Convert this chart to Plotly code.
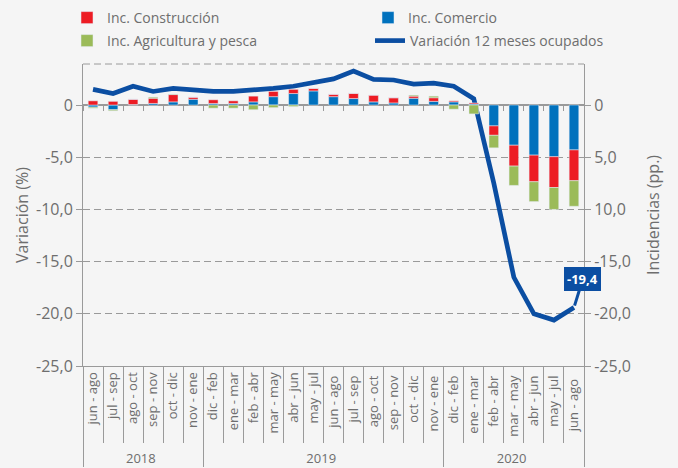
import plotly.graph_objects as go

# ---------------- data ----------------
years = ["2018"] * 6 + ["2019"] * 12 + ["2020"] * 7
periodos = [
    "jun - ago", "jul - sep", "ago - oct", "sep - nov", "oct - dic", "nov - ene",
    "dic - feb", "ene - mar", "feb - abr", "mar - may", "abr - jun", "may - jul",
    "jun - ago", "jul - sep", "ago - oct", "sep - nov", "oct - dic", "nov - ene",
    "dic - feb", "ene - mar", "feb - abr", "mar - may", "abr - jun", "may - jul",
    "jun - ago",
]
variacion = [1.5, 1.1, 1.8, 1.3, 1.6, 1.4, 1.3, 1.3, 1.4, 1.6, 1.8, 2.2,
             2.5, 3.25, 2.45, 2.4, 2.0, 2.1, 1.8, 0.6, -7.5, -16.5, -20.0, -20.6, -19.4]
comercio = [-0.2, -0.45, 0.05, 0.15, 0.3, 0.55, 0.15, 0.15, 0.3, 0.8, 1.1, 1.35,
            0.8, 0.62, 0.3, 0.2, 0.65, 0.35, 0.3, 0.1, -2.0, -3.85, -4.8, -4.95, -4.3]
construccion = [0.4, 0.35, 0.5, 0.5, 0.7, 0.2, 0.35, 0.25, 0.55, 0.5, 0.4, 0.25,
                0.23, 0.5, 0.65, 0.5, 0.2, 0.35, 0.1, 0.1, -0.9, -2.0, -2.55, -2.95, -2.95]
agricultura = [-0.1, -0.1, 0.0, 0.1, 0.05, 0.0, -0.3, -0.3, -0.45, -0.25, -0.15, 0.0,
               0.0, 0.0, 0.0, 0.0, 0.1, 0.15, -0.4, -0.85, -1.2, -1.85, -1.9, -2.1, -2.45]

y_tickvals = [0, -5, -10, -15, -20, -25]
left_ticktext = ["0", "-5,0", "-10,0", "-15,0", "-20,0", "-25,0"]
right_ticktext = ["0", "5,0", "10,0", "-15,0", "-20,0", "-25,0"]
y_range = [-25, 3.93]

# ---------------- style ----------------
RED = "#ed1c24"
BLUE = "#0071bd"
GREEN = "#9bbb59"
LINE = "#0b4ea2"
GRID = "#9a9a9a"
TXT = "#6e6e6e"
BG = "#f5f5f5"
FONT = "Open Sans"

n = len(periodos)
idx = list(range(n))
bounds = [i - 0.5 for i in range(n + 1)]

# keep repeated period names distinct (trailing spaces are not rendered) so the
# multicategory axis keeps the chronological order
seen = {}
periodos_unicos = []
for p in periodos:
    k = seen.get(p, 0)
    periodos_unicos.append(p + " " * k)
    seen[p] = k + 1
x_mc = [years, periodos_unicos]
zero_pos = (0 - y_range[0]) / (y_range[1] - y_range[0])

fig = go.Figure()
fig.add_bar(x=x_mc, y=comercio, name="Inc. Comercio", marker_color=BLUE,
            yaxis="y2", legend="legend2", width=0.48)
fig.add_bar(x=x_mc, y=construccion, name="Inc. Construcción", marker_color=RED,
            yaxis="y2", legend="legend", width=0.48)
fig.add_bar(x=x_mc, y=agricultura, name="Inc. Agricultura y pesca", marker_color=GREEN,
            yaxis="y2", legend="legend3", width=0.48)
fig.add_scatter(x=x_mc, y=variacion, mode="lines", name="Variación 12 meses ocupados",
                line=dict(color=LINE, width=4.7), legend="legend4")
# invisible helper traces so the overlay tick axes get drawn
fig.add_scatter(x=idx, y=variacion, xaxis="x2", mode="lines", opacity=0,
                showlegend=False, hoverinfo="skip")
fig.add_scatter(x=idx, y=variacion, xaxis="x3", mode="lines", opacity=0,
                showlegend=False, hoverinfo="skip")

last = variacion[-1]
fig.add_annotation(xref="x2", yref="y", x=idx[-1], y=last,
                   text="<b>" + f"{last:.1f}".replace(".", ",") + "</b>",
                   showarrow=True, ax=9, ay=-29, arrowhead=0, arrowwidth=3,
                   arrowcolor=LINE, standoff=2, bgcolor=LINE, bordercolor=LINE,
                   borderpad=2, font=dict(color="white", size=13, family=FONT))

fig.add_shape(type="line", xref="paper", yref="paper", x0=0, x1=1, y0=1, y1=1,
              line=dict(color=GRID, width=1, dash="7px,4px"), layer="below")

legend_common = dict(xanchor="left", yanchor="top",
                     font=dict(size=14, color=TXT, family=FONT),
                     bgcolor="rgba(0,0,0,0)")
row1_y = 1 + (64 - 2) / 302
row2_y = 1 + (64 - 25) / 302
col1_x = (67 - 83) / 501
col2_x = (368 - 83) / 501

fig.update_layout(
    width=678, height=468,
    margin=dict(l=83, r=94, t=64, b=102, autoexpand=False),
    paper_bgcolor=BG, plot_bgcolor=BG,
    font=dict(family=FONT, color=TXT),
    barmode="relative",
    showlegend=True,
    legend=dict(x=col1_x, y=row1_y, **legend_common),
    legend2=dict(x=col2_x, y=row1_y, **legend_common),
    legend3=dict(x=col1_x, y=row2_y, **legend_common),
    legend4=dict(x=col2_x + 0.004, y=row2_y, **legend_common),
    xaxis=dict(type="multicategory", range=[-0.5, n - 0.5], showline=True,
               linecolor=GRID, linewidth=1, ticks="", tickangle=-90,
               tickfont=dict(size=13, color=TXT), showdividers=True,
               dividercolor=GRID, dividerwidth=1, showgrid=False),
    xaxis2=dict(overlaying="x", anchor="free", position=zero_pos, side="bottom",
                range=[-0.5, n - 0.5], tickvals=bounds, ticks="outside", ticklen=5,
                tickcolor=GRID, showticklabels=False, showgrid=False,
                zeroline=False, showline=False),
    xaxis3=dict(overlaying="x", anchor="y", side="bottom",
                range=[-0.5, n - 0.5], tickvals=bounds, ticks="outside", ticklen=76,
                tickcolor=GRID, showticklabels=False, showgrid=False,
                zeroline=False, showline=False),
    yaxis=dict(range=y_range, tickvals=y_tickvals, ticktext=left_ticktext,
               ticks="outside", ticklen=6, tickcolor=GRID, showline=True,
               linecolor=GRID, showgrid=True, gridcolor=GRID, griddash="7px,4px",
               zeroline=True, zerolinecolor=GRID, zerolinewidth=1.5,
               tickfont=dict(size=16, color=TXT),
               title=dict(text="Variación (%)", font=dict(size=16, color=TXT), standoff=3)),
    yaxis2=dict(range=y_range, overlaying="y", side="right", tickvals=y_tickvals,
                ticktext=right_ticktext, ticks="outside", ticklen=6, tickcolor=GRID,
                showline=True, linecolor=GRID, showgrid=False, zeroline=False,
                tickfont=dict(size=16, color=TXT),
                title=dict(text="Incidencias (pp.)", font=dict(size=16, color=TXT), standoff=17)),
)

fig.write_html("out.html", config={"displayModeBar": False},
               post_script="document.body.style.margin='0';")
